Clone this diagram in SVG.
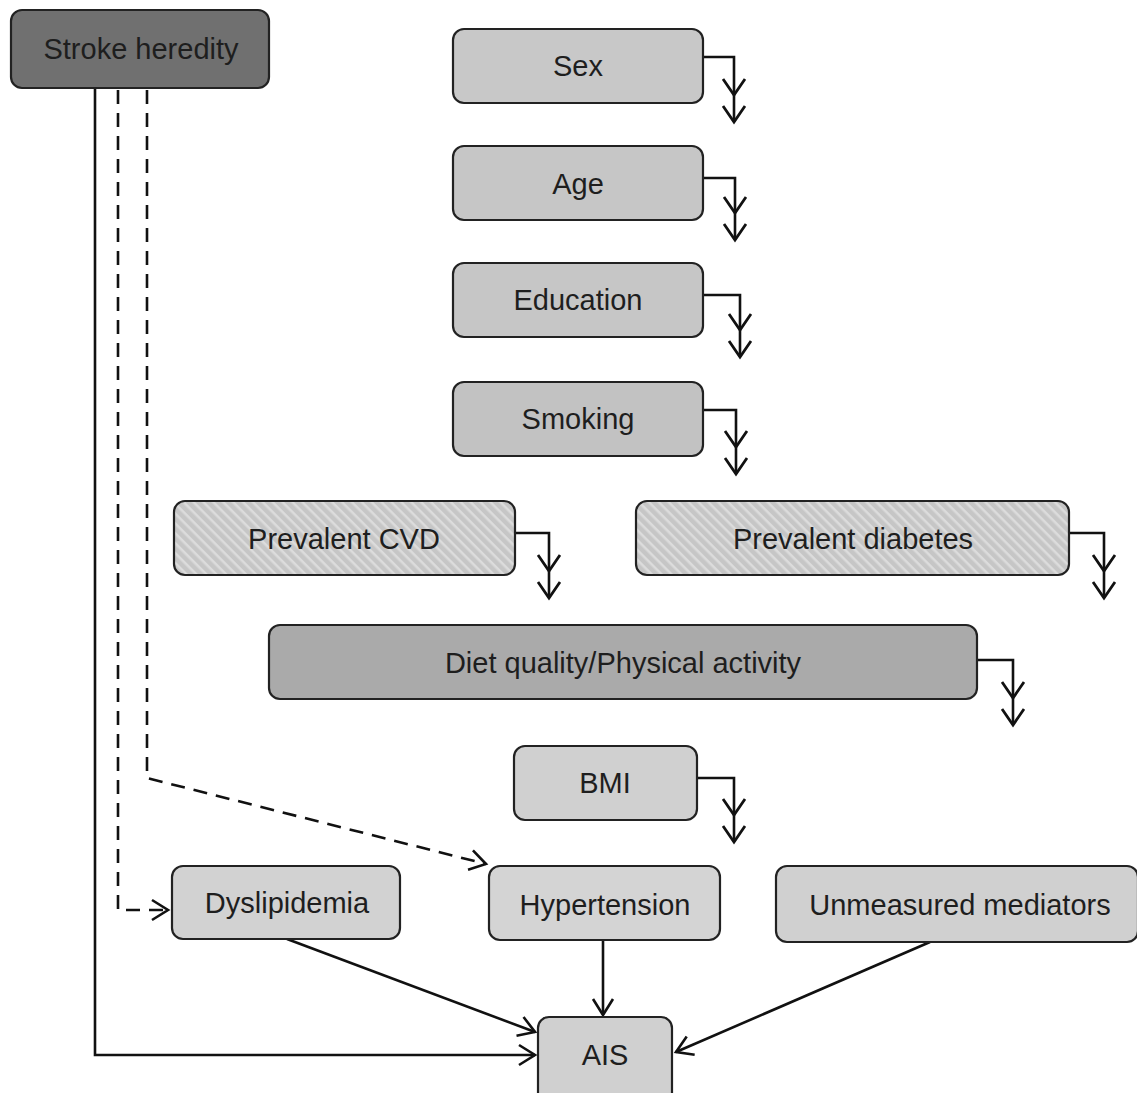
<svg xmlns="http://www.w3.org/2000/svg" width="1137" height="1093" viewBox="0 0 1137 1093">
<style>
  .box { stroke: #222; stroke-width: 2.2; }
  .t { font-family: "Liberation Sans", Arial, sans-serif; font-size: 29px; fill: #1e1e1e; text-anchor: middle; }
  .c { fill: none; stroke: #111; stroke-width: 2.6; }
  .dash { stroke-dasharray: 14 9; }
  .dbl { marker-end: url(#dbl); }
  .one { marker-end: url(#one); }
</style>
<defs>
  <pattern id="hatch" patternUnits="userSpaceOnUse" width="7" height="7" patternTransform="rotate(45)">
    <rect width="7" height="7" fill="#c6c6c6"/>
    <rect y="0" width="7" height="2.5" fill="#dcdcdc"/>
  </pattern>
  <marker id="dbl" markerUnits="userSpaceOnUse" markerWidth="60" markerHeight="30" viewBox="-50 -15 60 30" refX="0" refY="0" orient="auto" overflow="visible">
    <path d="M-16,-11 L0,0 L-16,11 M-43,-11 L-27,0 L-43,11" fill="none" stroke="#111" stroke-width="2.8"/>
  </marker>
  <marker id="one" markerUnits="userSpaceOnUse" markerWidth="30" markerHeight="30" viewBox="-20 -15 30 30" refX="0" refY="0" orient="auto" overflow="visible">
    <path d="M-16,-10 L0,0 L-16,10" fill="none" stroke="#111" stroke-width="2.6"/>
  </marker>
</defs>
<rect width="1137" height="1093" fill="#ffffff"/>

<g id="connectors">
  <path class="c dbl" d="M703,57 H734 V122"/>
  <path class="c dbl" d="M703,178 H735 V240"/>
  <path class="c dbl" d="M703,295 H740 V357"/>
  <path class="c dbl" d="M703,410 H736 V474"/>
  <path class="c dbl" d="M515,533 H549 V598"/>
  <path class="c dbl" d="M1069,533 H1104 V598"/>
  <path class="c dbl" d="M977,660 H1013 V725"/>
  <path class="c dbl" d="M697,778 H734 V842"/>
  <path class="c one" d="M95,88 V1055 H535"/>
  <path class="c dash one" d="M118,90 V910 H168"/>
  <path class="c dash one" d="M147,90 V778 L486,864"/>
  <path class="c one" d="M287,939 L535,1032"/>
  <path class="c one" d="M603,940 V1015"/>
  <path class="c one" d="M930,942 L676,1052"/>
</g>

<g id="stroke-heredity">
  <rect class="box" x="11" y="10" width="258" height="78" rx="11" fill="#707070"/>
  <text class="t" x="141" y="59">Stroke heredity</text>
</g>
<g id="sex">
  <rect class="box" x="453" y="29" width="250" height="74" rx="11" fill="#c8c8c8"/>
  <text class="t" x="578" y="76">Sex</text>
</g>
<g id="age">
  <rect class="box" x="453" y="146" width="250" height="74" rx="11" fill="#c6c6c6"/>
  <text class="t" x="578" y="194">Age</text>
</g>
<g id="education">
  <rect class="box" x="453" y="263" width="250" height="74" rx="11" fill="#c6c6c6"/>
  <text class="t" x="578" y="310">Education</text>
</g>
<g id="smoking">
  <rect class="box" x="453" y="382" width="250" height="74" rx="11" fill="#c2c2c2"/>
  <text class="t" x="578" y="429">Smoking</text>
</g>
<g id="prevalent-cvd">
  <rect class="box" x="174" y="501" width="341" height="74" rx="11" fill="url(#hatch)"/>
  <text class="t" x="344" y="549">Prevalent CVD</text>
</g>
<g id="prevalent-diabetes">
  <rect class="box" x="636" y="501" width="433" height="74" rx="11" fill="url(#hatch)"/>
  <text class="t" x="853" y="549">Prevalent diabetes</text>
</g>
<g id="diet">
  <rect class="box" x="269" y="625" width="708" height="74" rx="11" fill="#aaaaaa"/>
  <text class="t" x="623" y="673">Diet quality/Physical activity</text>
</g>
<g id="bmi">
  <rect class="box" x="514" y="746" width="183" height="74" rx="11" fill="#d0d0d0"/>
  <text class="t" x="605" y="793">BMI</text>
</g>
<g id="dyslipidemia">
  <rect class="box" x="172" y="866" width="228" height="73" rx="11" fill="#d2d2d2"/>
  <text class="t" x="287" y="913">Dyslipidemia</text>
</g>
<g id="hypertension">
  <rect class="box" x="489" y="866" width="231" height="74" rx="11" fill="#d4d4d4"/>
  <text class="t" x="605" y="915">Hypertension</text>
</g>
<g id="unmeasured">
  <rect class="box" x="776" y="866" width="362" height="76" rx="11" fill="#d0d0d0"/>
  <text class="t" x="960" y="915">Unmeasured mediators</text>
</g>
<g id="ais">
  <rect class="box" x="538" y="1017" width="134" height="90" rx="11" fill="#d0d0d0"/>
  <text class="t" x="605" y="1065">AIS</text>
</g>
</svg>
